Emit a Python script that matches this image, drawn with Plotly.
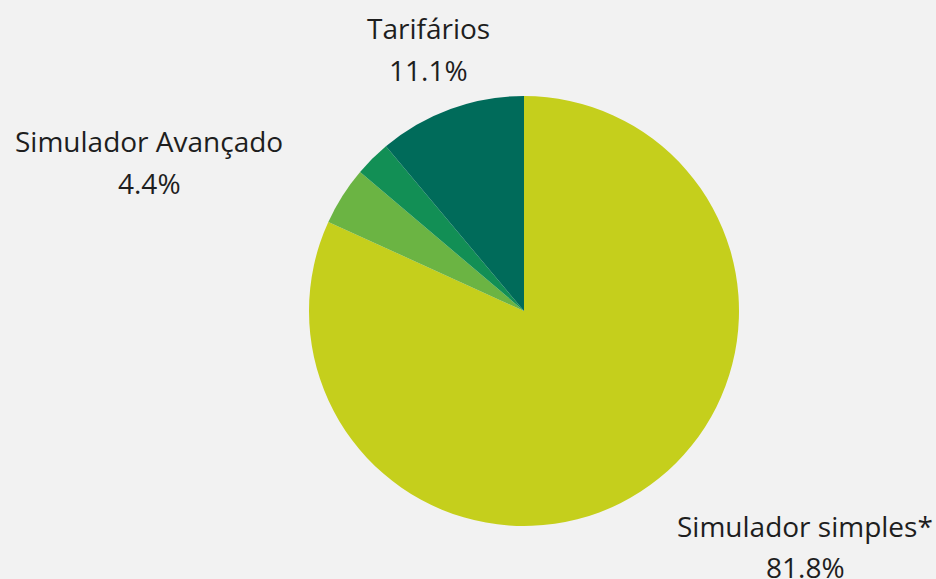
import plotly.graph_objects as go

# slice data (clockwise from 12 o'clock)
categories = ["Simulador simples*", "Simulador Avançado", "Outros", "Tarifários"]
shares = [81.8, 4.4, 2.7, 11.1]
colors = ["#C5CF1C", "#6BB443", "#128F55", "#006B5A"]
show_label = [True, True, False, True]

W, H = 936, 579
cx, cy, R = 524, 311, 215

fig = go.Figure(go.Pie(
    labels=categories,
    values=shares,
    sort=False,
    direction="clockwise",
    rotation=0,
    marker=dict(colors=colors, line=dict(width=0)),
    textinfo="none",
    hoverinfo="label+percent",
    showlegend=False,
    domain=dict(x=[(cx - R) / W, (cx + R) / W], y=[1 - (cy + R) / H, 1 - (cy - R) / H]),
))

# label positions in pixels (name line, value line)
label_pos = {
    "Simulador simples*": (805, 526, 567),
    "Simulador Avançado": (149, 141, 183),
    "Tarifários": (428, 28, 70),
}
font = dict(family="'Open Sans', 'Noto Sans', sans-serif", size=28, color="#1E1E1E")
for name, val, show in zip(categories, shares, show_label):
    if not show:
        continue
    x, y1, y2 = label_pos[name]
    for txt, y in [(name, y1), ("%.1f%%" % val, y2)]:
        fig.add_annotation(x=x / W, y=1 - y / H, xref="paper", yref="paper",
                           text=txt, showarrow=False, font=font,
                           xanchor="center", yanchor="middle")

fig.update_layout(
    width=W, height=H,
    margin=dict(l=0, r=0, t=0, b=0),
    paper_bgcolor="#F2F2F2",
    plot_bgcolor="#F2F2F2",
)
fig.write_html("out.html", config={"displayModeBar": False},
               post_script="document.body.style.margin='0';")
